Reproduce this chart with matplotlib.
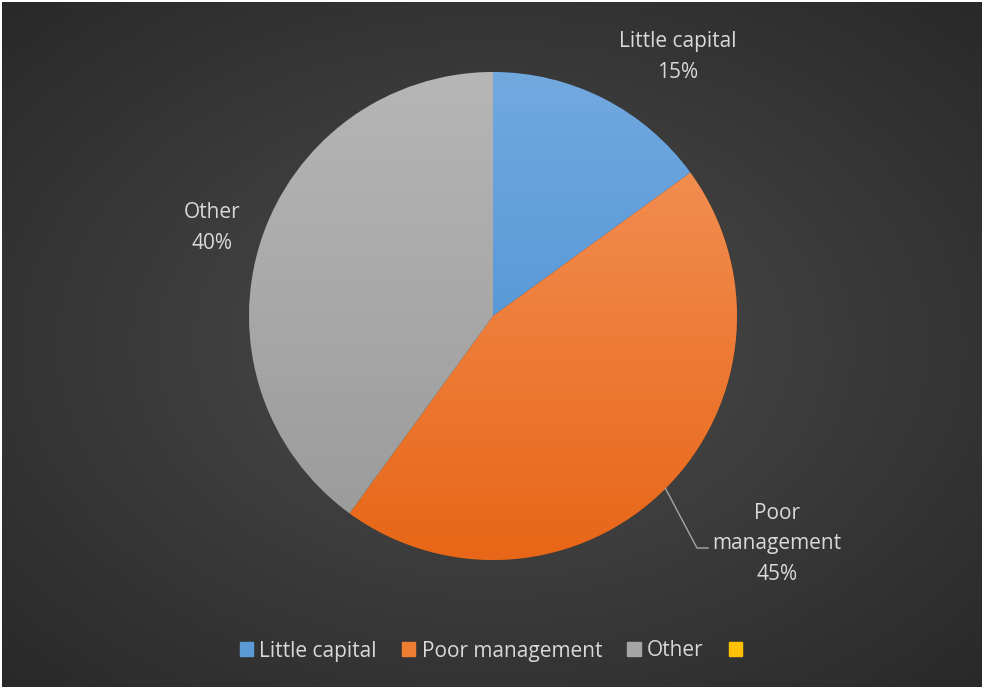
import matplotlib.pyplot as plt
import matplotlib.colors as mcolors
import numpy as np

labels = ['Little capital', 'Poor management', 'Other']
shares = [15, 45, 40]
legend_labels = ['Little capital', 'Poor management', 'Other', '']
legend_colors = ['#5b9bd5', '#ed7d31', '#a5a5a5', '#ffc000']
# top / bottom shades of each slice
grad_colors = [('#72a9df', '#4189d2'), ('#f4975f', '#e86617'), ('#b6b6b6', '#999999')]

W, H = 982, 687
fig = plt.figure(figsize=(W / 100, H / 100), dpi=100, facecolor='white')

# dark radial backdrop
bg = fig.add_axes([2 / W, 0, 1 - 2 / W, 1 - 2 / H])
yy, xx = np.mgrid[0:H, 0:W]
r = np.hypot((xx - W / 2) / (W / 2), (yy - H / 2) / (H / 2)) / np.sqrt(2)
shade = 0.30 - 0.14 * r
bg.imshow(np.dstack([shade] * 3), aspect='auto', extent=(0, 1, 0, 1))
bg.set_axis_off()

ax = fig.add_axes([0, 0, 1, 1])
ax.set_axis_off()
cx, cy, R = 493, H - 316, 244
wedges, _ = ax.pie(shares, startangle=90, counterclock=False, center=(cx, cy),
                   radius=R, frame=True,
                   wedgeprops=dict(edgecolor='#3a3a3a', linewidth=0.6))
ax.set_xlim(0, W)
ax.set_ylim(0, H)
ax.set_aspect('equal')
ax.set_axis_off()

# vertical gradient inside each slice
for w, (top, bot) in zip(wedges, grad_colors):
    c1, c2 = np.array(mcolors.to_rgb(top)), np.array(mcolors.to_rgb(bot))
    t = np.linspace(0, 1, 256)[:, None]
    img = (c1 * (1 - t) + c2 * t)[:, None, :]
    im = ax.imshow(img, extent=(cx - R, cx + R, cy - R, cy + R), aspect='auto',
                   zorder=w.get_zorder() + 0.1)
    im.set_clip_path(w)

txt = dict(color='#d9d9d9', fontsize=15, family='Open Sans', ha='center',
           va='center', linespacing=1.6)
ax.text(678, H - 57, f'{labels[0]}\n{shares[0]}%', **txt)
ax.text(212, H - 228, f'{labels[2]}\n{shares[2]}%', **txt)
ax.text(777, H - 544, 'Poor\nmanagement\n' + f'{shares[1]}%', **txt)

# leader line for the bottom label
mid = np.deg2rad(90 - 360 * (shares[0] + shares[1] / 2) / 100)
px, py = cx + R * np.cos(mid), cy + R * np.sin(mid)
ax.plot([px, 697, 708], [py, H - 548, H - 548], color='#a6a6a6', lw=1, zorder=5)

handles = [plt.Rectangle((0, 0), 1, 1, color=c) for c in legend_colors]
leg = fig.legend(handles, legend_labels, loc='center', bbox_to_anchor=(494 / W, 1 - 651 / H),
                 ncol=4, frameon=False, handlelength=0.65, handleheight=0.65,
                 handletextpad=0.3, columnspacing=1.2,
                 prop=dict(family='Open Sans', size=15))
for t in leg.get_texts():
    t.set_color('#d9d9d9')

fig.savefig('out.png', dpi=100, facecolor='white')
